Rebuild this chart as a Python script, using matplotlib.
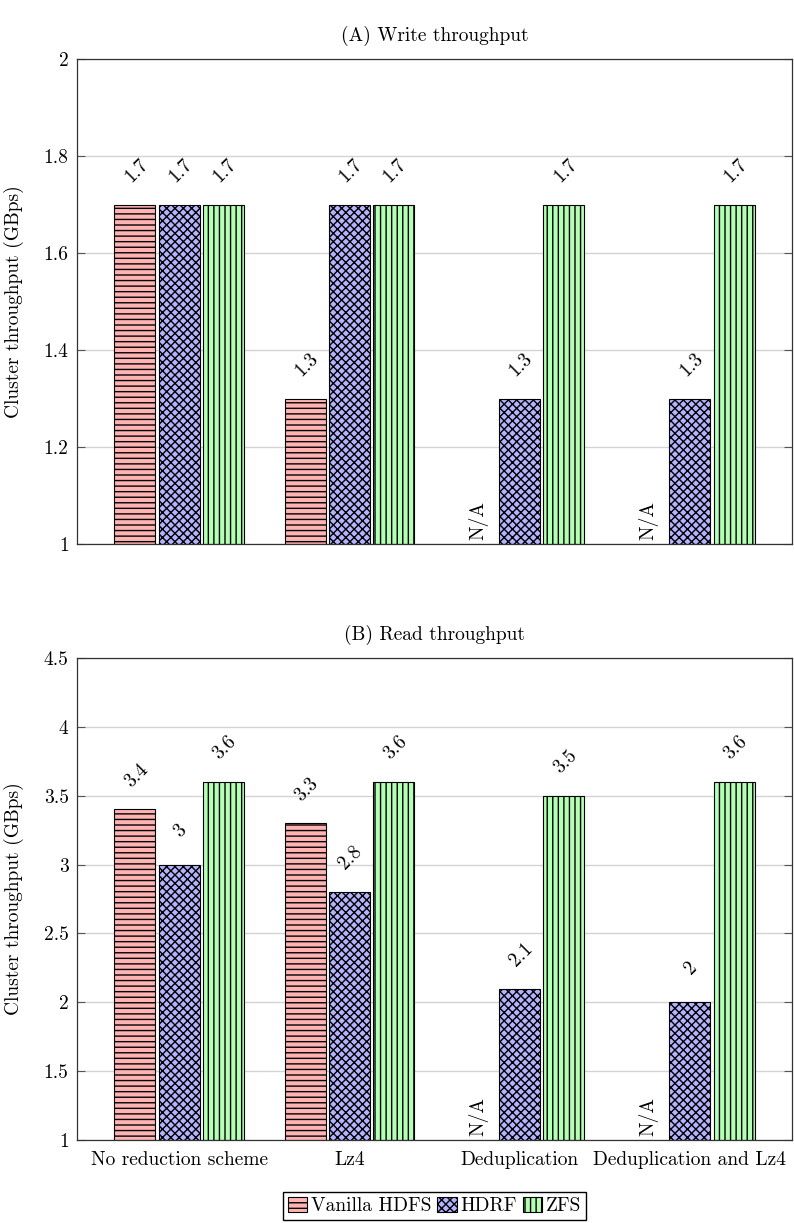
import matplotlib
matplotlib.use("Agg")
import matplotlib.pyplot as plt
import numpy as np

plt.rcParams["font.family"] = ["cmr10", "DejaVu Serif"]
plt.rcParams["mathtext.fontset"] = "cm"
plt.rcParams["axes.formatter.use_mathtext"] = True
plt.rcParams["hatch.linewidth"] = 1.0

# ---- data ----
categories = ["No reduction scheme", "Lz4", "Deduplication", "Deduplication and Lz4"]
series = ["Vanilla HDFS", "HDRF", "ZFS"]

write_vanilla = [1.7, 1.3, None, None]
write_hdrf = [1.7, 1.7, 1.3, 1.3]
write_zfs = [1.7, 1.7, 1.7, 1.7]

read_vanilla = [3.4, 3.3, None, None]
read_hdrf = [3.0, 2.8, 2.1, 2.0]
read_zfs = [3.6, 3.6, 3.5, 3.6]

write_ticks = [1, 1.2, 1.4, 1.6, 1.8, 2]
read_ticks = [1, 1.5, 2, 2.5, 3, 3.5, 4, 4.5]

# ---- style ----
FILLS = ["#ffb3b3", "#b3b3ff", "#b3ffb3"]
HATCHES = ["---", "xxxx", "|||"]
FS = 14
W, H = 794, 1223

fig = plt.figure(figsize=(W / 100, H / 100), dpi=100)
fig.patch.set_facecolor("white")


def fx(px):
    return px / W


def fy(py):
    return 1 - py / H


ax_w = fig.add_axes([fx(77), fy(544), fx(792) - fx(77), fy(59) - fy(544)])
ax_r = fig.add_axes([fx(77), fy(1140), fx(792) - fx(77), fy(658) - fy(1140)])

x = np.arange(len(categories))
bw = 0.24
step = 0.26


def panel(ax, data, ymin, ymax, ticks, title):
    for i, vals in enumerate(data):
        xs = x + (i - 1) * step
        for xi, v in zip(xs, vals):
            if v is None:
                ax.annotate("N/A", (xi, ymin), xytext=(2, 3), textcoords="offset points",
                            ha="center", va="bottom", rotation=90, fontsize=FS)
                continue
            ax.bar(xi, v - ymin, bw, bottom=ymin, color=FILLS[i], edgecolor="black",
                   hatch=HATCHES[i], linewidth=0.8, zorder=2)
            ax.annotate(f"{v:g}", (xi, v), xytext=(1, 24.5), textcoords="offset points",
                        ha="center", va="center", rotation=45, fontsize=FS)
    ax.set_xlim(-0.6, 3.6)
    ax.set_ylim(ymin, ymax)
    ax.set_yticks(ticks)
    ax.set_yticklabels([f"{t:g}" for t in ticks])
    ax.grid(axis="y", color="#d3d3d3", linewidth=1.0, zorder=0)
    ax.set_axisbelow(True)
    ax.tick_params(axis="y", direction="in", length=6, width=0.8, color="#555555",
                   right=True, labelsize=FS, pad=6)
    ax.tick_params(axis="x", length=0, labelsize=FS, pad=8)
    for s in ax.spines.values():
        s.set_color("#333333")
        s.set_linewidth(0.9)
    ax.set_ylabel("Cluster throughput (GBps)", fontsize=FS)
    ax.yaxis.set_label_coords(-0.074, 0.5)
    ax.set_title(title, fontsize=FS, pad=13)


panel(ax_w, [write_vanilla, write_hdrf, write_zfs], 1, 2, write_ticks, "(A) Write throughput")
ax_w.set_xticks(x)
ax_w.set_xticklabels([])

panel(ax_r, [read_vanilla, read_hdrf, read_zfs], 1, 4.5, read_ticks, "(B) Read throughput")
ax_r.set_xticks(x)
ax_r.set_xticklabels(categories)

handles = [plt.Rectangle((0, 0), 1, 1, facecolor=FILLS[i], edgecolor="black",
                         hatch=HATCHES[i], linewidth=0.8) for i in range(3)]
fig.legend(handles, series, loc="upper center",
           bbox_to_anchor=((fx(77) + fx(792)) / 2, fy(1192)),
           ncol=3, fontsize=FS, frameon=True, fancybox=False, edgecolor="black",
           framealpha=1, handlelength=1.0, handleheight=0.8, handletextpad=0.2,
           columnspacing=0.3, borderpad=0.25, borderaxespad=0)

fig.savefig("out.png", dpi=100, facecolor="white")
